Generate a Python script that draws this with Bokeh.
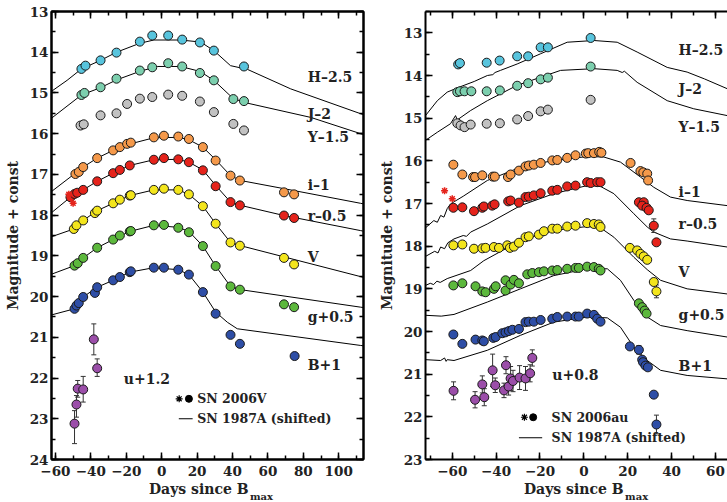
from bokeh.plotting import figure
from bokeh.layouts import row, column
from bokeh.models import Range1d, LinearAxis, SingleIntervalTicker, Label
from bokeh.core.properties import value
from bokeh.embed import file_html
from bokeh.resources import INLINE

FONT = "DejaVu Serif"

# ---------------- SN 2006V (left panel) ----------------
L_H_day = [-45.3, -43.0, -34.5, -25.5, -12.3, -5.3, 3.7, 11.6, 21.6, 29.5, 46.5]
L_H_mag = [14.41, 14.33, 14.20, 14.01, 13.74, 13.59, 13.59, 13.69, 13.76, 13.96, 14.35]
L_J_day = [-45.3, -43.6, -34.5, -25.5, -12.3, -5.3, 3.7, 11.6, 21.6, 29.5, 40.5, 46.5]
L_J_mag = [15.05, 15.00, 14.86, 14.65, 14.45, 14.37, 14.27, 14.35, 14.51, 14.69, 15.15, 15.20]
L_Y_day = [-45.8, -44.0, -34.5, -25.5, -19.5, -12.3, -5.3, 3.7, 11.6, 21.6, 29.5, 40.5, 46.5]
L_Y_mag = [15.80, 15.77, 15.55, 15.50, 15.27, 15.14, 15.10, 15.04, 15.07, 15.21, 15.47, 15.76, 15.92]
L_i_day = [-48.7, -46.8, -44.3, -36.4, -27.4, -23.6, -19.5, -17.4, -4.4, 1.3, 9.4, 15.4, 23.3, 30.5, 38.9, 44.2, 69.1, 74.8]
L_i_mag = [16.99, 16.94, 16.82, 16.60, 16.41, 16.33, 16.25, 16.22, 16.09, 16.05, 16.07, 16.13, 16.33, 16.66, 17.03, 17.15, 17.44, 17.49]
L_r_day = [-51.5, -49.2, -47.7, -44.3, -36.4, -27.4, -23.6, -18.0, -4.4, 1.3, 9.4, 15.4, 23.3, 30.5, 38.9, 44.2, 69.1, 74.8]
L_r_mag = [17.56, 17.48, 17.45, 17.38, 17.17, 16.97, 16.89, 16.78, 16.64, 16.60, 16.63, 16.70, 16.90, 17.29, 17.68, 17.76, 18.01, 18.07]
L_rstar_day = [-52.4, -50.0]
L_rstar_mag = [17.49, 17.71]
L_V_day = [-49.6, -48.1, -44.3, -37.7, -36.4, -27.4, -23.6, -18.0, -17.4, -4.4, 1.3, 9.4, 15.4, 23.3, 30.5, 38.9, 44.2, 69.1, 74.8]
L_V_mag = [18.34, 18.25, 18.13, 17.95, 17.89, 17.71, 17.62, 17.52, 17.51, 17.38, 17.35, 17.38, 17.49, 17.78, 18.21, 18.67, 18.75, 19.05, 19.21]
L_g_day = [-49.2, -47.4, -44.3, -36.4, -27.4, -23.6, -18.0, -17.4, -4.4, 1.3, 9.4, 15.4, 23.3, 30.5, 38.9, 44.2, 69.1, 74.8]
L_g_mag = [19.24, 19.18, 19.05, 18.80, 18.60, 18.50, 18.40, 18.39, 18.25, 18.24, 18.31, 18.42, 18.76, 19.25, 19.75, 19.83, 20.19, 20.26]
L_B_day = [-49.2, -48.1, -46.8, -44.3, -37.7, -36.4, -27.4, -23.6, -18.0, -17.4, -4.4, 1.3, 9.4, 15.4, 23.3, 30.5, 38.9, 44.2, 75.1]
L_B_mag = [20.30, 20.22, 20.16, 20.01, 19.91, 19.77, 19.60, 19.52, 19.40, 19.38, 19.29, 19.29, 19.34, 19.46, 19.89, 20.42, 20.94, 21.16, 21.46]
L_u_day = [-49.2, -48.1, -47.4, -44.3, -38.3, -36.4]
L_u_mag = [23.12, 22.65, 22.26, 22.28, 21.05, 21.76]
L_u_err_lo = [0.32, 0.22, 0.20, 0.32, 0.38, 0.23]
L_u_err_hi = [0.49, 0.31, 0.21, 0.31, 0.38, 0.20]

# SN 1987A (shifted) templates, left panel
L87_H_day = [-62.2, -53.4, -45.3, -34.5, -25.5, -12.3, -4.4, 10.7, 22.0, 29.5, 38.9, 48.4, 72.9, 112.4, 116]
L87_H_mag = [14.96, 14.69, 14.41, 14.20, 14.00, 13.78, 13.70, 13.70, 13.75, 13.96, 14.33, 14.42, 14.90, 15.51, 15.56]
L87_J_day = [-62.2, -45.3, -34.5, -25.5, -12.3, -2.5, 10.7, 21.6, 29.5, 40.5, 48.4, 84.2, 112.4, 116]
L87_J_mag = [15.62, 15.05, 14.87, 14.68, 14.47, 14.35, 14.35, 14.47, 14.69, 15.14, 15.25, 15.60, 16.00, 16.05]
L87_i_day = [-62.2, -48.7, -44.3, -36.4, -27.4, -19.4, -4.4, 9.4, 15.4, 23.3, 30.5, 38.9, 44.6, 69.1, 112.4, 116]
L87_i_mag = [17.42, 16.97, 16.82, 16.60, 16.41, 16.27, 16.10, 16.09, 16.15, 16.33, 16.64, 17.03, 17.15, 17.35, 17.71, 17.74]
L87_r_day = [-62.2, -51.5, -44.3, -36.4, -27.4, -18.0, -4.4, 9.4, 15.4, 23.3, 30.5, 38.9, 44.6, 69.1, 112.4, 116]
L87_r_mag = [17.94, 17.56, 17.38, 17.17, 16.97, 16.78, 16.64, 16.63, 16.70, 16.89, 17.27, 17.68, 17.76, 18.01, 18.38, 18.41]
L87_V_day = [-62.2, -49.6, -44.3, -36.4, -27.4, -18.0, -4.4, 9.4, 15.4, 23.3, 30.5, 38.9, 44.6, 112.4, 116]
L87_V_mag = [18.53, 18.34, 18.13, 17.89, 17.71, 17.52, 17.38, 17.38, 17.49, 17.78, 18.21, 18.67, 18.75, 19.51, 19.55]
L87_g_day = [-62.2, -49.2, -44.3, -36.4, -27.4, -18.0, -4.4, 9.4, 15.4, 23.3, 30.5, 38.9, 44.6, 112.4, 116]
L87_g_mag = [19.45, 19.24, 19.05, 18.80, 18.60, 18.40, 18.25, 18.30, 18.40, 18.76, 19.25, 19.75, 19.83, 20.26, 20.28]
L87_B_day = [-62.2, -49.2, -44.3, -36.4, -27.4, -18.0, -4.4, 9.4, 15.4, 23.3, 30.5, 37.1, 42.7, 112.4, 116]
L87_B_mag = [20.45, 20.30, 20.01, 19.77, 19.60, 19.40, 19.29, 19.34, 19.46, 19.89, 20.38, 20.63, 20.79, 21.20, 21.22]

# ---------------- SN 2006au (right panel) ----------------
R_H_day = [-57.3, -56.5, -44.3, -38.4, -30.4, -25.4, -19.7, -16.4, 3.1]
R_H_mag = [13.74, 13.71, 13.70, 13.65, 13.55, 13.55, 13.34, 13.34, 13.12]
R_J_day = [-57.7, -56.5, -54.4, -51.3, -44.3, -38.3, -30.4, -25.4, -19.7, -16.4, 3.1]
R_J_mag = [14.39, 14.37, 14.37, 14.37, 14.37, 14.35, 14.24, 14.18, 14.09, 14.05, 13.79]
R_Y_day = [-57.7, -56.2, -54.4, -51.6, -44.3, -38.3, -30.4, -25.4, -19.7, -16.4, 3.1]
R_Y_mag = [15.12, 15.17, 15.21, 15.15, 15.13, 15.12, 15.03, 14.95, 14.84, 14.80, 14.57]
R_i_day = [-59.5, -55.4, -50.5, -49.6, -46.3, -41.5, -40.6, -34.6, -33.4, -29.6, -26.6, -25.1, -22.8, -19.7,
           -14.4, -12.1, -7.6, -3.8, 0.9, 2.0, 4.6, 7.0, 8.0, 21.3, 25.8, 27.1, 28.9, 29.3]
R_i_mag = [16.09, 16.32, 16.38, 16.38, 16.34, 16.37, 16.37, 16.38, 16.32, 16.23, 16.13, 16.11, 16.09, 16.05,
           15.99, 15.98, 15.93, 15.87, 15.83, 15.82, 15.82, 15.79, 15.81, 16.05, 16.24, 16.27, 16.30, 16.46]
R_r_day = [-59.5, -55.4, -50.1, -46.3, -45.6, -41.8, -40.7, -34.5, -33.4, -29.6, -26.6, -25.1, -22.8, -19.7,
           -14.4, -12.1, -7.6, -3.8, 1.5, 3.1, 6.1, 7.6, 25.1, 27.3, 26.6, 28.6, 29.6, 31.9, 33.1]
R_r_mag = [17.10, 17.09, 17.18, 17.10, 17.07, 17.05, 17.02, 16.95, 16.93, 16.98, 16.85, 16.84, 16.81, 16.76,
           16.70, 16.68, 16.60, 16.58, 16.50, 16.52, 16.50, 16.50, 16.97, 16.97, 17.05, 17.10, 17.16, 17.52, 17.91]
R_r_err = [0] * 27 + [0.16, 0.07]
R_rstar_day = [-63.5, -60.0]
R_rstar_mag = [16.70, 16.89]
R_V_day = [-59.5, -55.4, -50.1, -46.3, -44.8, -41.0, -38.7, -34.9, -33.7, -31.9, -29.6, -26.6, -25.1, -20.5, -18.2,
           -14.4, -12.1, -7.6, -3.8, 1.5, 4.6, 6.8, 7.6, 21.0, 24.3, 25.8, 27.3, 28.9, 31.9, 33.1]
R_V_mag = [17.98, 17.96, 18.06, 18.05, 18.04, 18.02, 18.04, 17.98, 18.04, 18.01, 17.92, 17.79, 17.77, 17.73, 17.65,
           17.59, 17.59, 17.54, 17.52, 17.46, 17.48, 17.49, 17.55, 18.04, 18.10, 18.18, 18.24, 18.32, 18.84, 19.06]
R_V_err = [0] * 29 + [0.15]
R_g_day = [-59.5, -55.4, -49.4, -46.3, -44.8, -41.0, -40.2, -35.7, -35.7, -33.4, -31.9, -29.6, -25.8, -23.5, -20.5,
           -18.2, -14.4, -12.1, -7.6, -3.8, -2.3, 1.5, 4.6, 6.8, 7.6, 25.1, 26.6, 27.7, 28.6]
R_g_mag = [18.92, 18.87, 18.94, 19.06, 19.08, 19.00, 18.94, 19.04, 18.80, 18.90, 18.79, 18.87, 18.66, 18.63, 18.61,
           18.59, 18.57, 18.56, 18.53, 18.51, 18.51, 18.48, 18.49, 18.53, 18.57, 19.34, 19.43, 19.51, 19.58]
R_B_day = [-59.5, -55.4, -49.4, -46.3, -45.6, -41.3, -40.2, -37.2, -35.7, -34.2, -32.6, -29.6, -26.6, -25.1, -22.8,
           -19.7, -14.4, -12.1, -7.6, -3.8, -2.3, 1.5, 4.6, 6.1, 7.6, 21.0, 25.1, 26.6, 27.0, 28.1, 29.2, 31.9, 33.1]
R_B_mag = [20.07, 20.29, 20.19, 20.21, 20.23, 20.15, 20.13, 20.04, 20.02, 19.99, 19.96, 19.94, 19.78, 19.77, 19.77,
           19.73, 19.70, 19.66, 19.65, 19.65, 19.65, 19.58, 19.61, 19.70, 19.77, 20.35, 20.43, 20.66, 20.72, 20.80,
           20.84, 21.48, 22.18]
R_B_err = [0] * 26 + [0.10] + [0] * 5 + [0.22]
R_u_day = [-59.4, -49.6, -46.3, -45.4, -41.6, -40.4, -36.4, -35.5, -34.3, -33.4, -32.3, -29.3, -26.6, -24.5, -23.5]
R_u_mag = [21.39, 21.60, 21.24, 21.54, 20.91, 21.26, 21.38, 20.79, 21.29, 21.10, 21.16, 21.08, 21.10, 20.98, 20.62]
R_u_err = [0.21, 0.19, 0.20, 0.20, 0.38, 0.17, 0.17, 0.20, 0.20, 0.28, 0.25, 0.28, 0.28, 0.20, 0.19]

# SN 1987A (shifted) templates, right panel
R87_H_day = [-72.2, -66.8, -62.3, -57.7, -50.0, -44.0, -41.5, -40.5, -38.0, -30.4, -19.7, -7.6, 4.6, 15.2, 24.3, 38.0, 47.1, 55.0, 65.4, 68]
R87_H_mag = [14.94, 14.59, 14.39, 14.29, 14.14, 14.00, 13.98, 13.93, 13.88, 13.73, 13.49, 13.22, 13.18, 13.22, 13.45, 13.81, 13.92, 14.08, 14.31, 14.36]
R87_J_day = [-72.2, -66.8, -60.8, -58.5, -57.7, -51.6, -44.0, -30.4, -10.6, 4.6, 15.2, 17.5, 18.5, 24.3, 38.0, 50.1, 65.4, 68]
R87_J_mag = [15.52, 15.33, 15.13, 14.94, 15.04, 14.82, 14.59, 14.23, 13.88, 13.84, 13.88, 13.93, 13.90, 14.16, 14.59, 14.78, 14.94, 14.96]
R87_i_day = [-72.2, -68.4, -66.8, -65.3, -63.8, -62.3, -60.8, -55.0, -44.0, -28.9, -13.7, 1.5, 9.1, 16.7, 25.8, 31.9, 39.5, 47.1, 65.4, 68]
R87_i_mag = [17.57, 17.40, 17.44, 17.28, 17.32, 17.12, 17.01, 16.83, 16.46, 16.15, 15.99, 15.90, 15.91, 16.03, 16.38, 16.62, 16.85, 16.93, 17.05, 17.07]
R87_r_day = [-72.2, -68.0, -66.5, -65.3, -63.5, -62.0, -59.2, -55.0, -53.5, -51.6, -44.0, -28.9, -13.7, 1.5, 7.6, 13.7, 22.8, 28.9, 31.9, 39.5, 47.1, 65.4, 68]
R87_r_mag = [18.24, 18.12, 18.16, 18.02, 18.06, 17.92, 17.83, 17.75, 17.77, 17.67, 17.48, 17.05, 16.77, 16.58, 16.60, 16.77, 17.24, 17.55, 17.67, 17.83, 17.88, 18.02, 18.04]
R87_V_day = [-72.2, -70.0, -68.5, -67.0, -65.5, -62.3, -51.6, -45.6, -28.9, -13.7, 1.5, 7.6, 13.7, 22.8, 28.9, 35.0, 47.1, 65.4, 68]
R87_V_mag = [18.92, 18.87, 18.90, 18.82, 18.85, 18.76, 18.57, 18.34, 17.87, 17.63, 17.54, 17.57, 17.79, 18.26, 18.55, 18.80, 19.00, 19.12, 19.14]
R87_g_day = [-72.2, -65.0, -59.2, -44.0, -28.9, -13.7, 1.5, 10.7, 16.7, 22.8, 28.9, 35.0, 47.1, 65.4, 68]
R87_g_mag = [19.62, 19.64, 19.60, 19.31, 19.00, 18.69, 18.53, 18.53, 18.80, 19.27, 19.66, 19.86, 19.98, 20.13, 20.15]
R87_B_day = [-72.2, -65.3, -63.5, -62.8, -62.3, -59.2, -44.0, -28.9, -13.7, 1.5, 10.7, 16.7, 22.8, 28.9, 35.0, 47.1, 65.4, 68]
R87_B_mag = [20.66, 20.68, 20.62, 20.70, 20.66, 20.68, 20.44, 20.09, 19.78, 19.66, 19.68, 19.90, 20.37, 20.68, 20.91, 21.03, 21.11, 21.12]

COLORS = {"H": "#58c4dd", "J": "#7ccfae", "Y": "#c2c2c2", "i": "#f5994a", "r": "#e5231b",
          "V": "#f3e51c", "g": "#5cb83c", "B": "#2e4ea6", "u": "#9b4ea9"}
L_LABELS = ["H\u20132.5", "J\u20132", "Y\u20131.5", "i\u20131", "r\u20130.5", "V", "g+0.5", "B+1", "u+1.2"]
R_LABELS = ["H\u20132.5", "J\u20132", "Y\u20131.5", "i\u20131", "r\u20130.5", "V", "g+0.5", "B+1", "u+0.8"]
X_TICKS = [-60, -40, -20, 0, 20, 40, 60, 80, 100]
XTITLE = "Days since B"
XSUB = "max"

MAIN_H = 481
STRIP_H = 21
TXT = "#222222"


def tick_style(ax, show_labels=True):
    ax.axis_line_width = 2
    ax.axis_line_color = "black"
    ax.major_tick_in = 7
    ax.major_tick_out = 0
    ax.minor_tick_in = 4
    ax.minor_tick_out = 0
    ax.major_tick_line_width = 1.5
    ax.minor_tick_line_width = 1.5
    if show_labels:
        ax.major_label_text_font = FONT
        ax.major_label_text_font_style = "bold"
        ax.major_label_text_font_size = "13.5px"
        ax.major_label_text_color = TXT
    else:
        ax.major_label_text_color = None
        ax.major_label_text_font_size = "1px"
        ax.major_label_standoff = 0


def make_panel(xr, yr, width, bl, br, right_axis):
    p = figure(width=width, height=MAIN_H, x_range=Range1d(*xr), y_range=Range1d(*yr),
               output_backend="svg", toolbar_location=None,
               min_border_left=bl, min_border_right=br, min_border_top=11, min_border_bottom=MAIN_H - 459)
    p.grid.visible = False
    p.background_fill_color = "white"
    p.border_fill_color = "white"
    xt = SingleIntervalTicker(interval=20, num_minor_ticks=2)
    yt = SingleIntervalTicker(interval=1, num_minor_ticks=2)
    p.xaxis.ticker = xt
    p.yaxis.ticker = yt
    tick_style(p.xaxis[0])
    tick_style(p.yaxis[0])
    p.xaxis.major_label_overrides = {t: ("\u2212%d" % -t if t < 0 else "%d" % t) for t in X_TICKS}
    p.xaxis.major_label_standoff = 6
    p.yaxis.major_label_standoff = 3
    p.yaxis.axis_label = "Magnitude + const"
    p.yaxis.axis_label_text_font = FONT
    p.yaxis.axis_label_text_font_style = "bold"
    p.yaxis.axis_label_text_font_size = "14px"
    p.yaxis.axis_label_text_color = TXT
    p.yaxis.axis_label_standoff = 6
    top = LinearAxis(ticker=xt)
    tick_style(top, False)
    p.add_layout(top, "above")
    if right_axis:
        rt = LinearAxis(ticker=yt)
        tick_style(rt, False)
        p.add_layout(rt, "right")
        p.outline_line_color = "black"
        p.outline_line_width = 2
    else:
        p.outline_line_color = None
    return p


def make_strip(main, width, bl, br, xb, xs):
    s = figure(width=width, height=STRIP_H, x_range=main.x_range, y_range=Range1d(STRIP_H, 0),
               output_backend="svg", toolbar_location=None, x_axis_location=None, y_axis_location=None,
               min_border_left=bl, min_border_right=br, min_border_top=0, min_border_bottom=0)
    s.grid.visible = False
    s.outline_line_color = None
    s.text(x=[xb], y=[7], text=[XTITLE], text_font=value(FONT), text_font_style="bold",
           text_font_size="14px", text_align="right", text_baseline="alphabetic", text_color=TXT)
    s.text(x=[xs], y=[14.5], text=[XSUB], text_font=value(FONT), text_font_style="bold",
           text_font_size="10px", text_align="left", text_baseline="alphabetic", text_color=TXT)
    return s


def draw_points(p, day, mag, color, err_lo=None, err_hi=None):
    if err_lo is not None:
        xs = [d for d, e in zip(day, err_lo) if e > 0]
        lo = [m - e for m, e, h in zip(mag, err_lo, err_hi) if e > 0]
        hi = [m + h for m, e, h in zip(mag, err_lo, err_hi) if e > 0]
        p.segment(x0=xs, y0=lo, x1=xs, y1=hi, line_color="#333333", line_width=1)
        p.scatter(xs + xs, lo + hi, marker="dash", size=5, line_color="#333333", line_width=1)
    p.scatter(day, mag, marker="circle", size=9, fill_color=color, line_color="#1a1a1a", line_width=1)


def add_text(p, x, y, text, size="14px", align="left", baseline="middle"):
    p.add_layout(Label(x=x, y=y, text=text, text_font=FONT, text_font_style="bold",
                       text_font_size=size, text_align=align, text_baseline=baseline,
                       text_color=TXT))


# ---------------- left figure ----------------
pl = make_panel((-62.2, 114.0), (24, 13), 372, 51, 9, True)
for d, m in [(L87_H_day, L87_H_mag), (L87_J_day, L87_J_mag), (L87_i_day, L87_i_mag), (L87_r_day, L87_r_mag),
             (L87_V_day, L87_V_mag), (L87_g_day, L87_g_mag), (L87_B_day, L87_B_mag)]:
    pl.line(d, m, line_color="black", line_width=1)
draw_points(pl, L_H_day, L_H_mag, COLORS["H"])
draw_points(pl, L_J_day, L_J_mag, COLORS["J"])
draw_points(pl, L_Y_day, L_Y_mag, COLORS["Y"])
draw_points(pl, L_i_day, L_i_mag, COLORS["i"])
draw_points(pl, L_r_day, L_r_mag, COLORS["r"])
pl.scatter(L_rstar_day, L_rstar_mag, marker="asterisk", size=7, line_color="#e5231b", line_width=1.5)
draw_points(pl, L_V_day, L_V_mag, COLORS["V"])
draw_points(pl, L_g_day, L_g_mag, COLORS["g"])
draw_points(pl, L_B_day, L_B_mag, COLORS["B"])
draw_points(pl, L_u_day, L_u_mag, COLORS["u"], L_u_err_lo, L_u_err_hi)

for lab, yy in zip(L_LABELS[:8], [14.61, 15.51, 16.09, 17.27, 18.01, 19.03, 20.49, 21.69]):
    add_text(pl, 82.5, yy, lab)
add_text(pl, -21.4, 22.02, L_LABELS[8])
# legend
pl.scatter([9.9], [22.51], marker="asterisk", size=7, line_color="black", line_width=1.2)
pl.scatter([15.4], [22.51], marker="circle", size=7, fill_color="black", line_color="black")
pl.segment(x0=[9.7], y0=[23.0], x1=[17.5], y1=[23.0], line_color="black", line_width=1.2)
add_text(pl, 20.1, 22.51, "SN 2006V", size="12.5px")
add_text(pl, 20.1, 23.0, "SN 1987A (shifted)", size="12.5px")
sl = make_strip(pl, 372, 51, 9, 49.1, 49.9)

# ---------------- right figure ----------------
pr = make_panel((-72.2, 65.5), (23, 12.5), 355, 53, 0, False)
for d, m in [(R87_H_day, R87_H_mag), (R87_J_day, R87_J_mag), (R87_i_day, R87_i_mag), (R87_r_day, R87_r_mag),
             (R87_V_day, R87_V_mag), (R87_g_day, R87_g_mag), (R87_B_day, R87_B_mag)]:
    pr.line(d, m, line_color="black", line_width=1)
draw_points(pr, R_H_day, R_H_mag, COLORS["H"])
draw_points(pr, R_J_day, R_J_mag, COLORS["J"])
draw_points(pr, R_Y_day, R_Y_mag, COLORS["Y"])
draw_points(pr, R_i_day, R_i_mag, COLORS["i"])
draw_points(pr, R_r_day, R_r_mag, COLORS["r"], R_r_err, R_r_err)
pr.scatter(R_rstar_day, R_rstar_mag, marker="asterisk", size=7, line_color="#e5231b", line_width=1.5)
draw_points(pr, R_V_day, R_V_mag, COLORS["V"], R_V_err, R_V_err)
draw_points(pr, R_g_day, R_g_mag, COLORS["g"])
draw_points(pr, R_B_day, R_B_mag, COLORS["B"], R_B_err, R_B_err)
draw_points(pr, R_u_day, R_u_mag, COLORS["u"], R_u_err, R_u_err)

for lab, yy in zip(R_LABELS[:8], [13.41, 14.31, 15.21, 16.73, 17.48, 18.61, 19.62, 20.80]):
    add_text(pr, 43.2, yy, lab)
add_text(pr, -14.4, 21.01, R_LABELS[8])
pr.scatter([-27.1], [22.01], marker="asterisk", size=7, line_color="black", line_width=1.2)
pr.scatter([-23.1], [22.01], marker="circle", size=7, fill_color="black", line_color="black")
pr.segment(x0=[-29.6], y0=[22.49], x1=[-19.0], y1=[22.49], line_color="black", line_width=1.2)
add_text(pr, -14.7, 22.01, "SN 2006au", size="12.5px")
add_text(pr, -14.7, 22.49, "SN 1987A (shifted)", size="12.5px")
sr = make_strip(pr, 355, 53, 0, 18.1, 18.8)

layout = row(column(pl, sl), column(pr, sr))
open("out.html", "w").write(file_html(layout, INLINE))
